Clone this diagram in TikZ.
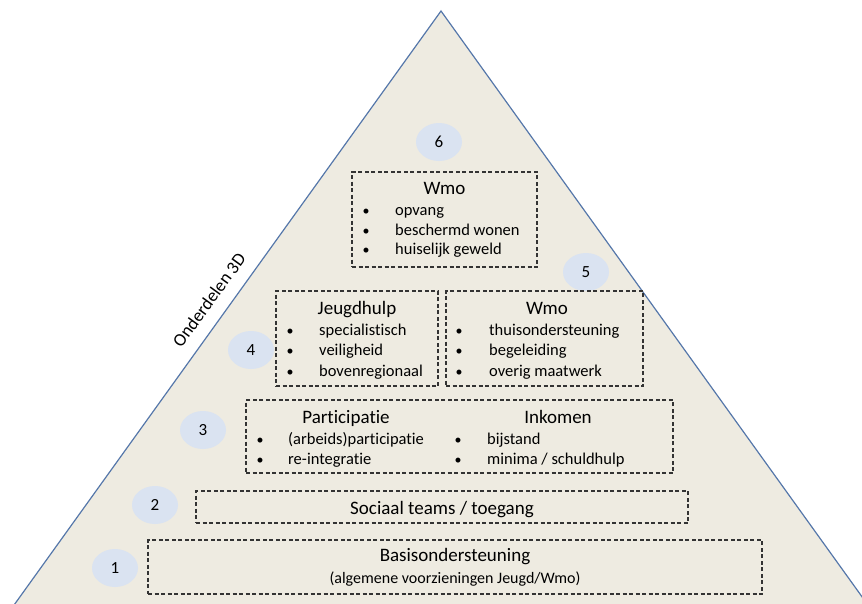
\documentclass[tikz,border=0pt]{standalone}
\usepackage{fontspec}
\setmainfont{Carlito}[Ligatures={NoCommon}]
\usetikzlibrary{shapes.geometric}
\definecolor{pyrfill}{HTML}{EEEBE1}
\definecolor{pyredge}{HTML}{5577AA}
\definecolor{numfill}{HTML}{DAE3F1}
\tikzset{
  layerbox/.style={draw=black!80, dash pattern=on 4pt off 2.5pt, line width=1.1pt, minimum width=#1},
  num/.style={ellipse, fill=numfill, minimum width=46pt, minimum height=38pt, font=\fontsize{17}{20}\selectfont},
  title/.style={anchor=base, inner sep=0pt, font=\fontsize{19}{22}\selectfont},
  item/.style={anchor=base west, inner sep=0pt, font=\fontsize{16.5}{19}\selectfont},
  dot/.style={anchor=base, inner sep=0pt, font=\fontsize{14}{17}\selectfont}
}
\begin{document}
\begin{tikzpicture}[x=1pt,y=-1pt]
\useasboundingbox (0,0) rectangle (862,603);
\clip (0,0) rectangle (862,603);
% pyramid
\fill[pyrfill] (441,11) -- (4,619) -- (878,619) -- cycle;
\draw[pyredge, line width=1.2pt] (4,619) -- (441,11) -- (878,619);
\node[rotate=54, anchor=south, inner sep=2pt, font=\fontsize{18}{21}\selectfont] (label3d) at (216,305) {Onderdelen 3D};

% level numbers
\node[num] (n1) at (115,568) {1};
\node[num] (n2) at (155,505) {2};
\node[num] (n3) at (203,430) {3};
\node[num] (n4) at (251,350) {4};
\node[num] (n5) at (586,272) {5};
\node[num] (n6) at (439,142) {6};

% level 6
\node[layerbox=185pt, minimum height=95pt] (box6) at (444.5,219.5) {};
\node[title] (wmo6) at (444.5,194) {Wmo};
\node[dot] at (366,215) {\textbullet};
\node[item] (opvang) at (395,215) {opvang};
\node[dot] at (366,235) {\textbullet};
\node[item] (beschermd) at (395,235) {beschermd wonen};
\node[dot] at (366,254) {\textbullet};
\node[item] (geweld) at (395,254) {huiselijk geweld};

% level 4 and 5
\node[layerbox=162pt, minimum height=95pt] (box4) at (357,338.5) {};
\node[title] (jeugd) at (357,314) {Jeugdhulp};
\node[dot] at (290,335) {\textbullet};
\node[item] (special) at (319,335) {specialistisch};
\node[dot] at (290,355) {\textbullet};
\node[item] (veilig) at (319,355) {veiligheid};
\node[dot] at (290,376) {\textbullet};
\node[item] (bovenreg) at (319,376) {bovenregionaal};

\node[layerbox=197pt, minimum height=95pt] (box5) at (544.5,338.5) {};
\node[title] (wmo5) at (547,314) {Wmo};
\node[dot] at (459,335) {\textbullet};
\node[item] (thuis) at (489,335) {thuisondersteuning};
\node[dot] at (459,355) {\textbullet};
\node[item] (begel) at (489,355) {begeleiding};
\node[dot] at (459,376) {\textbullet};
\node[item] (maatwerk) at (489,376) {overig maatwerk};

% level 3
\node[layerbox=427pt, minimum height=73pt] (box3) at (459.5,436.5) {};
\node[title] (partic) at (346,423) {Participatie};
\node[title] (inkomen) at (558,423) {Inkomen};
\node[dot] at (260,444) {\textbullet};
\node[item] (arbeid) at (288,444) {(arbeids)participatie};
\node[dot] at (260,464) {\textbullet};
\node[item] (reint) at (288,464) {re-integratie};
\node[dot] at (458,444) {\textbullet};
\node[item] (bijstand) at (487,444) {bijstand};
\node[dot] at (458,464) {\textbullet};
\node[item] (minima) at (487,464) {minima / schuldhulp};

% level 2
\node[layerbox=492pt, minimum height=32pt] (box2) at (442,507) {};
\node[title] (toegang) at (442,514) {Sociaal teams / toegang};

% level 1
\node[layerbox=614pt, minimum height=54pt] (box1) at (455,567) {};
\node[title] (basis) at (455,561) {Basisondersteuning};
\node[anchor=base, inner sep=0pt, font=\fontsize{16}{19}\selectfont] (algemeen) at (455,583) {(algemene voorzieningen Jeugd/Wmo)};
\end{tikzpicture}
\end{document}
